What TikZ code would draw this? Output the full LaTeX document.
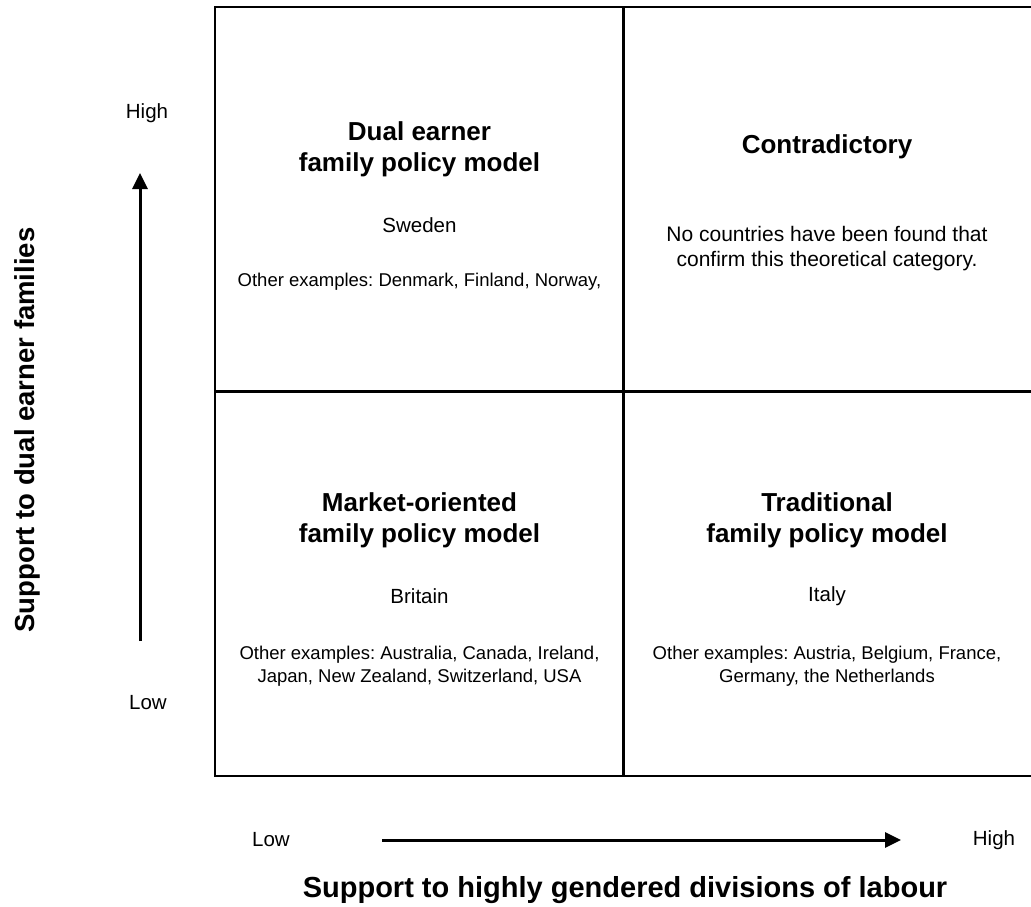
\documentclass[tikz,border=0pt]{standalone}
\usepackage{fontspec}
\setmainfont{Liberation Sans}
\frenchspacing
\usetikzlibrary{calc}
\usetikzlibrary{positioning}
\usetikzlibrary{arrows.meta}
\tikzstyle{cell} = [draw, line width=2pt, minimum width=409pt, minimum height=384pt, inner sep=0pt]
\tikzstyle{title} = [align=center, font=\bfseries\fontsize{26}{31}\selectfont]
\tikzstyle{country} = [align=center, font=\fontsize{20.5}{24}\selectfont]
\tikzstyle{others} = [align=center, font=\fontsize{18.5}{23}\selectfont]
\tikzstyle{remark} = [align=center, font=\fontsize{21}{25}\selectfont]
\tikzstyle{axislabel} = [font=\bfseries\fontsize{29}{34}\selectfont]
\tikzstyle{level} = [font=\fontsize{20.5}{24}\selectfont]
\tikzstyle{axis} = [line width=3pt, -{Triangle[width=15pt,length=16pt]}]

\begin{document}
\begin{tikzpicture}[x=1pt, y=-1pt]
    \useasboundingbox (0,0) rectangle (1031,906);

    % the four quadrants
    \node[cell] (dual) at (419.5,199) {};
    \node[cell] (contra) at (827,199) {};
    \node[cell] (market) at (419.5,583.5) {};
    \node[cell] (trad) at (827,583.5) {};

    % upper left
    \node[title] (dual_title) at ($(dual.north)+(0,143)$) {Dual earner\\family policy model};
    \node[country] (dual_country) at ($(dual.north)+(0,219)$) {Sweden};
    \node[others] (dual_others) at ($(dual.north)+(0,276)$) {Other examples: Denmark, Finland, Norway,};

    % upper right
    \node[title] (contra_title) at ($(contra.north)+(0,141)$) {Contradictory};
    \node[remark] (contra_text) at ($(contra.north)+(0,243)$) {No countries have been found that\\confirm this theoretical category.};

    % lower left
    \node[title] (market_title) at ($(market.north)+(0,130)$) {Market-oriented\\family policy model};
    \node[country] (market_country) at ($(market.north)+(0,206)$) {Britain};
    \node[others] (market_others) at ($(market.north)+(0,276)$) {Other examples: Australia, Canada, Ireland,\\Japan, New Zealand, Switzerland, USA};

    % lower right
    \node[title] (trad_title) at ($(trad.north)+(0,130)$) {Traditional\\family policy model};
    \node[country] (trad_country) at ($(trad.north)+(0,206)$) {Italy};
    \node[others] (trad_others) at ($(trad.north)+(0,276)$) {Other examples: Austria, Belgium, France,\\Germany, the Netherlands};

    % vertical axis
    \node[level] (v_high) at (147,113) {High};
    \node[level] (v_low) at (148,703) {Low};
    \coordinate (v_start) at (140,641);
    \coordinate (v_end) at (140,173);
    \draw[axis] (v_start) -- (v_end);
    \node[axislabel, font=\bfseries\fontsize{27.5}{32}\selectfont, rotate=90] (v_label) at (27,430) {Support to dual earner families};

    % horizontal axis
    \node[level] (h_low) at (271,840) {Low};
    \node[level] (h_high) at (994,840) {High};
    \coordinate (h_start) at (382,840);
    \coordinate (h_end) at (901,840);
    \draw[axis] (h_start) -- (h_end);
    \node[axislabel] (h_label) at (625,890) {Support to highly gendered divisions of labour};
\end{tikzpicture}
\end{document}
